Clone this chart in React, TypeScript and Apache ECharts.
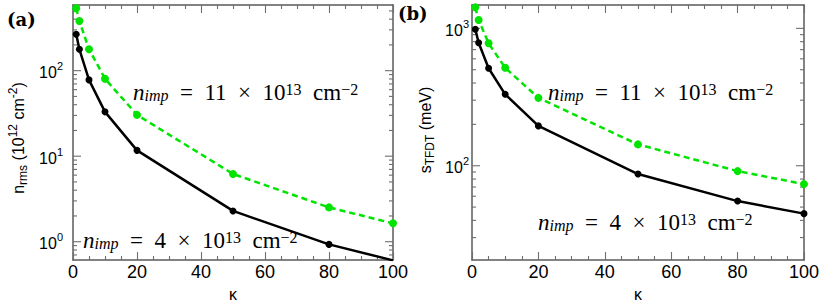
import React, { useEffect, useRef } from "react";
import * as echarts from "echarts";

const KAPPA = [1, 2, 5, 10, 20, 50, 80, 100];
const A_LOW = [267, 178, 78, 33, 11.7, 2.29, 0.93, 0.605];
const A_HIGH = [537, 381, 178, 80.6, 30.4, 6.2, 2.52, 1.64];
const B_LOW = [984, 785, 512, 331, 195, 87, 55.3, 44.8];
const B_HIGH = [1422, 1149, 778, 516, 312, 143, 91.4, 73.5];

const X_MIN = 0;
const X_MAX = 100;
const X_INTERVAL = 20;
const A_Y_RANGE = [0.611, 586];
const B_Y_RANGE = [20.6, 1479];

const LABEL_HIGH = "11";
const LABEL_LOW = "4";

const GREEN = "#00e400";
const FRAME = "#5a5a5a";
const TICK = "#6e6e6e";
const SANS = "'Liberation Sans', Arial, sans-serif";
const SERIF = "'Liberation Serif', 'Times New Roman', serif";

function logTicks(min: number, max: number) {
  const out: number[][] = [];
  for (let e = Math.floor(Math.log10(min)); e <= Math.ceil(Math.log10(max)); e++) {
    for (let m = 1; m <= 9; m++) {
      const v = m * Math.pow(10, e);
      if (v >= min && v <= max) out.push([0, v, m === 1 ? 1 : 0]);
    }
  }
  return out;
}

const zip = (xs: number[], ys: number[]) => xs.map((x, i) => [x, ys[i]]);

function tickSeries(xi: number, yi: number, range: number[]) {
  return {
    type: "custom",
    xAxisIndex: xi,
    yAxisIndex: yi,
    silent: true,
    clip: false,
    z: 1,
    data: logTicks(range[0], range[1]),
    renderItem: (params: any, api: any) => {
      const v = api.value(1);
      const major = api.value(2) === 1;
      const l = api.coord([X_MIN, v]);
      const r = api.coord([X_MAX, v]);
      const len = major ? 8 : 4;
      const st = { stroke: TICK, lineWidth: 1.1 };
      return {
        type: "group",
        children: [
          { type: "line", shape: { x1: l[0], y1: l[1], x2: l[0] + len, y2: l[1] }, style: st },
          { type: "line", shape: { x1: r[0] - len, y1: r[1], x2: r[0], y2: r[1] }, style: st },
        ],
      };
    },
  };
}

const powLabel = (v: number) => {
  const lg = Math.log10(v);
  if (Math.abs(lg - Math.round(lg)) > 1e-6) return "";
  return `{b|10}{s|${Math.round(lg)}}`;
};

function xAxes(grid: number) {
  const common = {
    gridIndex: grid,
    type: "value",
    min: X_MIN,
    max: X_MAX,
    interval: X_INTERVAL,
    splitLine: { show: false },
    axisLine: { show: true, onZero: false, lineStyle: { color: FRAME, width: 1.5 } },
    axisTick: { show: true, inside: true, length: 8, lineStyle: { color: TICK, width: 1.1 } },
    minorTick: { show: true, splitNumber: 4, length: 4, lineStyle: { color: TICK, width: 1.1 } },
  };
  return [
    {
      ...common,
      position: "bottom",
      name: "κ",
      nameLocation: "middle",
      nameGap: 24,
      nameTextStyle: { fontFamily: SANS, fontSize: 16, lineHeight: 18, color: "#000" },
      axisLabel: { margin: 3, fontFamily: SANS, fontSize: 18, color: "#000" },
    },
    { ...common, position: "top", axisLabel: { show: false } },
  ];
}

function yAxes(grid: number, range: number[], margin: number) {
  const common = {
    gridIndex: grid,
    type: "log",
    logBase: 10,
    min: range[0],
    max: range[1],
    splitLine: { show: false },
    axisTick: { show: false },
    minorTick: { show: false },
    axisLine: { show: true, onZero: false, lineStyle: { color: FRAME, width: 1.5 } },
  };
  return [
    {
      ...common,
      position: "left",
      axisLabel: {
        margin,
        showMinLabel: false,
        showMaxLabel: false,
        formatter: powLabel,
        rich: {
          b: { fontFamily: SANS, fontSize: 16, color: "#000", lineHeight: 20, verticalAlign: "bottom" },
          s: { fontFamily: SANS, fontSize: 11, color: "#000", lineHeight: 12, verticalAlign: "top" },
        },
      },
    },
    { ...common, position: "right", axisLabel: { show: false } },
  ];
}

const mathRich = {
  it: { fontFamily: SERIF, fontStyle: "italic", fontSize: 23, lineHeight: 22, color: "#000" },
  sub: { fontFamily: SERIF, fontStyle: "italic", fontSize: 16, lineHeight: 12, verticalAlign: "bottom", color: "#000" },
  rm: { fontFamily: SERIF, fontSize: 23, lineHeight: 22, color: "#000" },
  sup: { fontFamily: SERIF, fontSize: 16, lineHeight: 12, verticalAlign: "top", color: "#000" },
};

const mathText = (coef: string) =>
  `{it|n}{sub|imp}{rm|  =  ${coef}  ×  10}{sup|13}{rm|  cm}{sup|−2}`;

const nameRich = {
  n: { fontFamily: SANS, fontSize: 16, lineHeight: 22, color: "#000" },
  sub: { fontFamily: SANS, fontSize: 12, lineHeight: 12, verticalAlign: "bottom", color: "#000" },
  sup: { fontFamily: SANS, fontSize: 12, lineHeight: 12, verticalAlign: "top", color: "#000" },
};

function dataSeries(xi: number, yi: number, low: number[], high: number[]) {
  return [
    {
      type: "line",
      xAxisIndex: xi,
      yAxisIndex: yi,
      data: zip(KAPPA, high),
      symbol: "circle",
      symbolSize: 8,
      z: 3,
      itemStyle: { color: GREEN },
      lineStyle: { color: GREEN, width: 2.5, type: [6, 4] },
    },
    {
      type: "line",
      xAxisIndex: xi,
      yAxisIndex: yi,
      data: zip(KAPPA, low),
      symbol: "circle",
      symbolSize: 7,
      z: 4,
      itemStyle: { color: "#000" },
      lineStyle: { color: "#000", width: 2.5 },
    },
  ];
}

export default function App() {
  const ref = useRef<HTMLDivElement>(null);
  useEffect(() => {
    if (!ref.current) return;
    const chart = echarts.init(ref.current, undefined, { renderer: "svg" });
    chart.setOption({
      animation: false,
      backgroundColor: "#fff",
      grid: [
        { left: 73, top: 5, width: 320, height: 255, outerBoundsMode: "none", containLabel: false },
        { left: 472, top: 5, width: 332, height: 255, outerBoundsMode: "none", containLabel: false },
      ],
      xAxis: [...xAxes(0), ...xAxes(1)],
      yAxis: [...yAxes(0, A_Y_RANGE, 10), ...yAxes(1, B_Y_RANGE, 3)],
      series: [
        tickSeries(0, 0, A_Y_RANGE),
        ...dataSeries(0, 0, A_LOW, A_HIGH),
        tickSeries(2, 2, B_Y_RANGE),
        ...dataSeries(2, 2, B_LOW, B_HIGH),
      ],
      graphic: [
        { type: "text", x: 7, y: 19, style: { text: "(a)", font: "bold 18px 'DejaVu Serif'", verticalAlign: "middle", fill: "#000" } },
        { type: "text", x: 398, y: 13, style: { text: "(b)", font: "bold 18px 'DejaVu Serif'", verticalAlign: "middle", fill: "#000" } },
        {
          type: "text", x: 18, y: 138, rotation: Math.PI / 2,
          style: { text: "{n|n}{sub|rms}{n| (10}{sup|12}{n| cm}{sup|-2}{n|)}", rich: nameRich, align: "center", verticalAlign: "middle" },
        },
        {
          type: "text", x: 425, y: 130, rotation: Math.PI / 2,
          style: { text: "{n|s}{sub|TFDT}{n| (meV)}", rich: nameRich, align: "center", verticalAlign: "middle" },
        },
        { type: "text", x: 133, y: 92, style: { text: mathText(LABEL_HIGH), rich: mathRich, verticalAlign: "middle" } },
        { type: "text", x: 83, y: 240, style: { text: mathText(LABEL_LOW), rich: mathRich, verticalAlign: "middle" } },
        { type: "text", x: 548, y: 92, style: { text: mathText(LABEL_HIGH), rich: mathRich, verticalAlign: "middle" } },
        { type: "text", x: 538, y: 222, style: { text: mathText(LABEL_LOW), rich: mathRich, verticalAlign: "middle" } },
      ],
    });
    return () => chart.dispose();
  }, []);
  return <div ref={ref} style={{ position: "fixed", left: 0, top: 0, width: 822, height: 304 }} />;
}
